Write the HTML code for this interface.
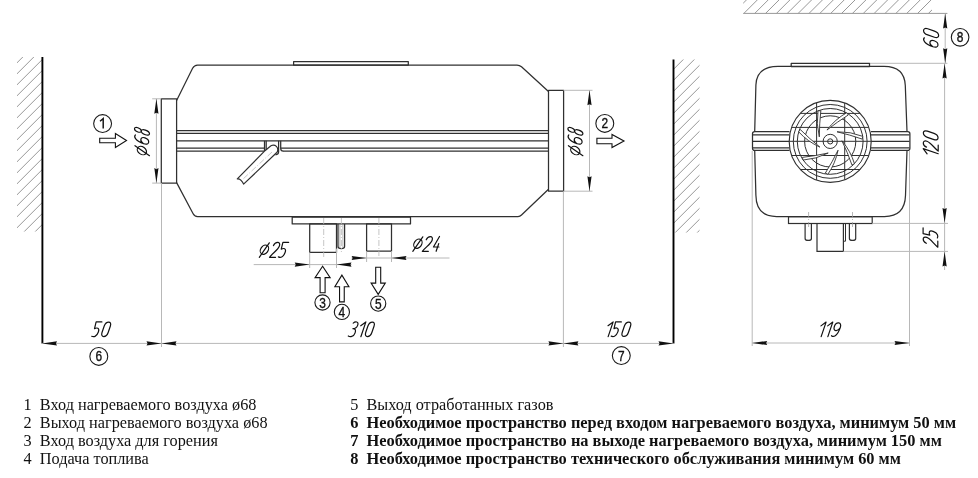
<!DOCTYPE html>
<html><head><meta charset="utf-8"><style>
html,body{margin:0;padding:0;background:#fff;}
body{width:978px;height:478px;overflow:hidden;font-family:"Liberation Sans",sans-serif;}
svg{display:block;}
</style></head><body>
<svg width="978" height="478" viewBox="0 0 978 478" style="will-change:transform">
<rect width="978" height="478" fill="#fff"/>
<clipPath id="hl"><rect x="17" y="57" width="25.4" height="174.5"/></clipPath>
<g clip-path="url(#hl)" stroke="#8c8c8c" stroke-width="0.9"><line x1="15" y1="64.8" x2="44.4" y2="35.4"/><line x1="15" y1="75.8" x2="44.4" y2="46.4"/><line x1="15" y1="86.8" x2="44.4" y2="57.4"/><line x1="15" y1="97.8" x2="44.4" y2="68.4"/><line x1="15" y1="108.8" x2="44.4" y2="79.4"/><line x1="15" y1="119.80000000000001" x2="44.4" y2="90.4"/><line x1="15" y1="130.8" x2="44.4" y2="101.4"/><line x1="15" y1="141.8" x2="44.4" y2="112.4"/><line x1="15" y1="152.8" x2="44.4" y2="123.4"/><line x1="15" y1="163.8" x2="44.4" y2="134.4"/><line x1="15" y1="174.8" x2="44.4" y2="145.4"/><line x1="15" y1="185.8" x2="44.4" y2="156.4"/><line x1="15" y1="196.8" x2="44.4" y2="167.4"/><line x1="15" y1="207.8" x2="44.4" y2="178.4"/><line x1="15" y1="218.8" x2="44.4" y2="189.4"/><line x1="15" y1="229.8" x2="44.4" y2="200.4"/><line x1="15" y1="240.8" x2="44.4" y2="211.4"/><line x1="15" y1="251.8" x2="44.4" y2="222.4"/><line x1="15" y1="262.8" x2="44.4" y2="233.4"/></g>
<line x1="42.4" y1="57" x2="42.4" y2="343.5" stroke="#000" stroke-width="1.9"/>
<clipPath id="hr"><rect x="673.5" y="59.5" width="26.0" height="173.1"/></clipPath>
<g clip-path="url(#hr)" stroke="#8c8c8c" stroke-width="0.9"><line x1="671.5" y1="71.29999999999995" x2="701.5" y2="41.299999999999955"/><line x1="671.5" y1="82.29999999999995" x2="701.5" y2="52.299999999999955"/><line x1="671.5" y1="93.29999999999995" x2="701.5" y2="63.299999999999955"/><line x1="671.5" y1="104.29999999999995" x2="701.5" y2="74.29999999999995"/><line x1="671.5" y1="115.29999999999995" x2="701.5" y2="85.29999999999995"/><line x1="671.5" y1="126.29999999999995" x2="701.5" y2="96.29999999999995"/><line x1="671.5" y1="137.29999999999995" x2="701.5" y2="107.29999999999995"/><line x1="671.5" y1="148.29999999999995" x2="701.5" y2="118.29999999999995"/><line x1="671.5" y1="159.29999999999995" x2="701.5" y2="129.29999999999995"/><line x1="671.5" y1="170.29999999999995" x2="701.5" y2="140.29999999999995"/><line x1="671.5" y1="181.29999999999995" x2="701.5" y2="151.29999999999995"/><line x1="671.5" y1="192.29999999999995" x2="701.5" y2="162.29999999999995"/><line x1="671.5" y1="203.29999999999995" x2="701.5" y2="173.29999999999995"/><line x1="671.5" y1="214.29999999999995" x2="701.5" y2="184.29999999999995"/><line x1="671.5" y1="225.29999999999995" x2="701.5" y2="195.29999999999995"/><line x1="671.5" y1="236.29999999999995" x2="701.5" y2="206.29999999999995"/><line x1="671.5" y1="247.29999999999995" x2="701.5" y2="217.29999999999995"/><line x1="671.5" y1="258.29999999999995" x2="701.5" y2="228.29999999999995"/><line x1="671.5" y1="269.29999999999995" x2="701.5" y2="239.29999999999995"/></g>
<line x1="673.5" y1="59.5" x2="673.5" y2="343.5" stroke="#000" stroke-width="1.9"/>
<g fill="none" stroke="#303030" stroke-width="1.25" stroke-linejoin="round">
<path d="M176.6,100.5 L192.6,68.2 Q194.3,65 197.5,65 L517,65 Q519.5,65 521.5,66.8 L548.5,91.5"/>
<path d="M548.5,189.3 L521.5,215 Q520,216.5 518,216.5 L197.5,216.5 Q194.5,216.5 193,213.5 L176.6,182.6"/>
<rect x="161.3" y="98.8" width="15.3" height="84.3"/>
<rect x="548.5" y="90.3" width="15.1" height="100.9"/>
<rect x="293.6" y="61.5" width="114.7" height="3.5"/>
<path d="M176.6,130.5 H548.5 M176.6,133.4 H548.5 M176.6,140.75 H548.5"/>
<path d="M176.6,148.2 H264.5 M176.6,151.1 H264.5 M280.7,148.2 H548.5 M283,151.1 H548.5"/>
<path d="M264.5,140.75 V151.1 M266.2,140.75 V150 M278.6,140.75 V152 Q278.4,154.6 275.5,154.8 M280.7,140.75 V148.4 Q280.8,151.1 283.2,151.1"/>
<rect x="292.2" y="217" width="118.3" height="6.9"/>
<rect x="309.7" y="223.9" width="26.8" height="28.5"/>
<rect x="366.6" y="223.9" width="24.9" height="27.3"/>
<path d="M338,223.9 V246.5 Q338,248.6 341.3,248.6 Q344.6,248.6 344.6,246.5 V223.9"/>
</g>
<path d="M339.9,224 V247 M342.9,224 V247" stroke="#888" stroke-width="0.6" fill="none"/>
<g fill="#fff" stroke="#303030" stroke-width="1.2" stroke-linejoin="round">
<path d="M265,150.7 L237.3,178.9 Q241,178.5 243.6,184.1 L276.5,152.8 A3.8,3.8 0 0 0 270,146.5 Z"/>
</g>
<g stroke="#b8b8b8" stroke-width="0.8" stroke-dasharray="6,2,1,2">
<line x1="323.7" y1="218" x2="323.7" y2="258"/><line x1="378.9" y1="218" x2="378.9" y2="256"/><line x1="341.4" y1="218" x2="341.4" y2="252"/>
<line x1="272" y1="152" x2="242" y2="180"/>
</g>
<line x1="152.2" y1="98.8" x2="161.2" y2="98.8" stroke="#b8b8b8" stroke-width="1"/>
<line x1="152.2" y1="183.1" x2="161.2" y2="183.1" stroke="#b8b8b8" stroke-width="1"/>
<line x1="156.4" y1="98.8" x2="156.4" y2="183.1" stroke="#b8b8b8" stroke-width="1"/>
<path d="M156.40,98.80 L154.30,113.80 L156.40,112.75 L158.50,113.80Z" fill="#111" stroke="none"/>
<path d="M156.40,183.10 L158.50,168.10 L156.40,169.15 L154.30,168.10Z" fill="#111" stroke="none"/>
<g transform="translate(149.5,155.7) rotate(-90)" fill="none" stroke="#111" stroke-width="1.2" stroke-linecap="round" stroke-linejoin="round"><path d="M0,0 L10,-14.5"/><ellipse cx="5.1" cy="-7.6" rx="5.0" ry="3.7" transform="rotate(-55 5.1 -7.6)"/><path transform="matrix(6.324999999999999,0,-5.1000000000000005,15.0,15.100000000000001,-15.0)" d="M0.95,0.06 C0.55,-0.06 0,0.05 0,0.62 C0,1.04 1,1.04 1,0.7 C1,0.36 0.15,0.34 0,0.6" vector-effect="non-scaling-stroke"/><path transform="matrix(6.16,0,-5.1000000000000005,15.0,23.900000000000002,-15.0)" d="M0.5,0.45 C0.05,0.45 0.05,0 0.5,0 C0.95,0 0.95,0.45 0.5,0.45 C0,0.45 0,1 0.5,1 C1,1 1,0.45 0.5,0.45 Z" vector-effect="non-scaling-stroke"/></g>
<line x1="563.6" y1="90.3" x2="592.5" y2="90.3" stroke="#b8b8b8" stroke-width="1"/>
<line x1="563.6" y1="191.2" x2="592.5" y2="191.2" stroke="#b8b8b8" stroke-width="1"/>
<line x1="589.5" y1="90.3" x2="589.5" y2="191.2" stroke="#b8b8b8" stroke-width="1"/>
<path d="M589.50,90.30 L587.40,105.30 L589.50,104.25 L591.60,105.30Z" fill="#111" stroke="none"/>
<path d="M589.50,191.20 L591.60,176.20 L589.50,177.25 L587.40,176.20Z" fill="#111" stroke="none"/>
<g transform="translate(582.9,155.7) rotate(-90)" fill="none" stroke="#111" stroke-width="1.2" stroke-linecap="round" stroke-linejoin="round"><path d="M0,0 L10,-14.5"/><ellipse cx="5.1" cy="-7.6" rx="5.0" ry="3.7" transform="rotate(-55 5.1 -7.6)"/><path transform="matrix(6.324999999999999,0,-5.1000000000000005,15.0,15.100000000000001,-15.0)" d="M0.95,0.06 C0.55,-0.06 0,0.05 0,0.62 C0,1.04 1,1.04 1,0.7 C1,0.36 0.15,0.34 0,0.6" vector-effect="non-scaling-stroke"/><path transform="matrix(6.16,0,-5.1000000000000005,15.0,23.900000000000002,-15.0)" d="M0.5,0.45 C0.05,0.45 0.05,0 0.5,0 C0.95,0 0.95,0.45 0.5,0.45 C0,0.45 0,1 0.5,1 C1,1 1,0.45 0.5,0.45 Z" vector-effect="non-scaling-stroke"/></g>
<line x1="161.5" y1="183.1" x2="161.5" y2="347" stroke="#b8b8b8" stroke-width="1"/>
<line x1="563.4" y1="191.2" x2="563.4" y2="347" stroke="#b8b8b8" stroke-width="1"/>
<line x1="42" y1="343.4" x2="673.5" y2="343.4" stroke="#b8b8b8" stroke-width="1"/>
<path d="M42.00,343.40 L57.00,345.50 L55.95,343.40 L57.00,341.30Z" fill="#111" stroke="none"/>
<path d="M161.50,343.40 L146.50,341.30 L147.55,343.40 L146.50,345.50Z" fill="#111" stroke="none"/>
<path d="M161.50,343.40 L176.50,345.50 L175.45,343.40 L176.50,341.30Z" fill="#111" stroke="none"/>
<path d="M563.40,343.40 L548.40,341.30 L549.45,343.40 L548.40,345.50Z" fill="#111" stroke="none"/>
<path d="M563.40,343.40 L578.40,345.50 L577.35,343.40 L578.40,341.30Z" fill="#111" stroke="none"/>
<path d="M673.50,343.40 L658.50,341.30 L659.55,343.40 L658.50,345.50Z" fill="#111" stroke="none"/>
<g transform="translate(91.1,336.7)" fill="none" stroke="#111" stroke-width="1.2" stroke-linecap="round" stroke-linejoin="round"><path transform="matrix(5.775,0,-5.032000000000001,14.8,5.032000000000001,-14.8)" d="M1,0 L0,0 L0.12,0.46 C0.45,0.37 1,0.4 0.98,0.68 C0.96,1.02 0.45,1.03 0.08,0.97" vector-effect="non-scaling-stroke"/><path transform="matrix(6.16,0,-5.032000000000001,14.8,14.532,-14.8)" d="M0,0.28 C0,-0.08 1,-0.08 1,0.28 L1,0.72 C1,1.08 0,1.08 0,0.72 Z" vector-effect="non-scaling-stroke"/></g>
<g transform="translate(348.3,336.7)" fill="none" stroke="#111" stroke-width="1.2" stroke-linecap="round" stroke-linejoin="round"><path transform="matrix(5.5,0,-5.032000000000001,14.8,5.032000000000001,-14.8)" d="M0.05,0.08 C0.3,-0.03 1,-0.05 1,0.22 C1,0.42 0.7,0.46 0.35,0.46 C0.8,0.46 1,0.56 1,0.74 C1,1.02 0.3,1.02 -0.05,0.95" vector-effect="non-scaling-stroke"/><path transform="matrix(3.8499999999999996,0,-5.032000000000001,14.8,13.732,-14.8)" d="M0,0.26 L1,0 L1,1" vector-effect="non-scaling-stroke"/><path transform="matrix(6.16,0,-5.032000000000001,14.8,21.032,-14.8)" d="M0,0.28 C0,-0.08 1,-0.08 1,0.28 L1,0.72 C1,1.08 0,1.08 0,0.72 Z" vector-effect="non-scaling-stroke"/></g>
<g transform="translate(604.3,336.6)" fill="none" stroke="#111" stroke-width="1.2" stroke-linecap="round" stroke-linejoin="round"><path transform="matrix(3.8499999999999996,0,-4.998,14.7,4.998,-14.7)" d="M0,0.26 L1,0 L1,1" vector-effect="non-scaling-stroke"/><path transform="matrix(5.775,0,-4.998,14.7,11.298,-14.7)" d="M1,0 L0,0 L0.12,0.46 C0.45,0.37 1,0.4 0.98,0.68 C0.96,1.02 0.45,1.03 0.08,0.97" vector-effect="non-scaling-stroke"/><path transform="matrix(6.16,0,-4.998,14.7,21.498,-14.7)" d="M0,0.28 C0,-0.08 1,-0.08 1,0.28 L1,0.72 C1,1.08 0,1.08 0,0.72 Z" vector-effect="non-scaling-stroke"/></g>
<line x1="309.7" y1="252.3" x2="309.7" y2="268" stroke="#b8b8b8" stroke-width="1"/>
<line x1="336.5" y1="248.6" x2="336.5" y2="268" stroke="#b8b8b8" stroke-width="1"/>
<line x1="253.7" y1="264.6" x2="351.5" y2="264.6" stroke="#b8b8b8" stroke-width="1"/>
<path d="M309.70,264.60 L294.70,262.50 L295.75,264.60 L294.70,266.70Z" fill="#111" stroke="none"/>
<path d="M336.50,264.60 L351.50,266.70 L350.45,264.60 L351.50,262.50Z" fill="#111" stroke="none"/>
<g transform="translate(259.3,257.3)" fill="none" stroke="#111" stroke-width="1.2" stroke-linecap="round" stroke-linejoin="round"><path d="M0,0 L10,-14.5"/><ellipse cx="5.1" cy="-7.6" rx="5.0" ry="3.7" transform="rotate(-55 5.1 -7.6)"/><path transform="matrix(6.050000000000001,0,-5.1000000000000005,15,15.3,-15)" d="M0,0.22 C0.05,-0.06 1,-0.08 1,0.25 C1,0.5 0.35,0.7 0,1 L1,1" vector-effect="non-scaling-stroke"/><path transform="matrix(5.775,0,-5.1000000000000005,15,23.6,-15)" d="M1,0 L0,0 L0.12,0.46 C0.45,0.37 1,0.4 0.98,0.68 C0.96,1.02 0.45,1.03 0.08,0.97" vector-effect="non-scaling-stroke"/></g>
<line x1="366.6" y1="251.2" x2="366.6" y2="262" stroke="#b8b8b8" stroke-width="1"/>
<line x1="391.5" y1="251.2" x2="391.5" y2="262" stroke="#b8b8b8" stroke-width="1"/>
<line x1="351.5" y1="258" x2="449.5" y2="258" stroke="#b8b8b8" stroke-width="1"/>
<path d="M366.60,258.00 L351.60,255.90 L352.65,258.00 L351.60,260.10Z" fill="#111" stroke="none"/>
<path d="M391.50,258.00 L406.50,260.10 L405.45,258.00 L406.50,255.90Z" fill="#111" stroke="none"/>
<g transform="translate(412.8,251.3)" fill="none" stroke="#111" stroke-width="1.2" stroke-linecap="round" stroke-linejoin="round"><path d="M0,0 L10,-14.5"/><ellipse cx="5.1" cy="-7.6" rx="5.0" ry="3.7" transform="rotate(-55 5.1 -7.6)"/><path transform="matrix(6.050000000000001,0,-5.032000000000001,14.8,14.532,-14.8)" d="M0,0.22 C0.05,-0.06 1,-0.08 1,0.25 C1,0.5 0.35,0.7 0,1 L1,1" vector-effect="non-scaling-stroke"/><path transform="matrix(5.5,0,-5.032000000000001,14.8,24.232,-14.8)" d="M0.45,0 L0,0.71 L1,0.71 M0.75,0.48 L0.75,1" vector-effect="non-scaling-stroke"/></g>
<circle cx="102.6" cy="123.6" r="8.95" fill="none" stroke="#1a1a1a" stroke-width="1.1"/>
<path d="M100.0,121.19999999999999 L103.19999999999999,118.6 L103.19999999999999,128.5" fill="none" stroke="#111" stroke-width="1.45" stroke-linejoin="miter"/>
<path d="M126.50,140.50 L115.40,133.55 L115.40,138.20 L99.70,138.20 L99.70,142.80 L115.40,142.80 L115.40,147.45Z" fill="#fff" stroke="#111" stroke-width="1.1" stroke-linejoin="miter"/>
<circle cx="604.8" cy="123.4" r="8.95" fill="none" stroke="#1a1a1a" stroke-width="1.1"/>
<text transform="translate(604.8,128.45000000000002) scale(0.84,1)" x="0" y="0" text-anchor="middle" font-family="Liberation Sans, sans-serif" font-size="14.2" fill="#111" stroke="#111" stroke-width="0.35">2</text>
<path d="M624.00,141.00 L612.00,134.50 L612.00,138.25 L596.90,138.25 L596.90,143.75 L612.00,143.75 L612.00,147.50Z" fill="#fff" stroke="#111" stroke-width="1.1" stroke-linejoin="miter"/>
<circle cx="98.8" cy="356.4" r="8.95" fill="none" stroke="#1a1a1a" stroke-width="1.1"/>
<text transform="translate(98.8,361.45) scale(0.84,1)" x="0" y="0" text-anchor="middle" font-family="Liberation Sans, sans-serif" font-size="14.2" fill="#111" stroke="#111" stroke-width="0.35">6</text>
<circle cx="621.3" cy="355.6" r="8.95" fill="none" stroke="#1a1a1a" stroke-width="1.1"/>
<text transform="translate(621.3,360.65000000000003) scale(0.84,1)" x="0" y="0" text-anchor="middle" font-family="Liberation Sans, sans-serif" font-size="14.2" fill="#111" stroke="#111" stroke-width="0.35">7</text>
<path d="M322.60,266.20 L315.05,277.60 L320.10,277.60 L320.10,292.70 L325.10,292.70 L325.10,277.60 L330.15,277.60Z" fill="#fff" stroke="#111" stroke-width="1.1" stroke-linejoin="miter"/>
<circle cx="322.5" cy="302.5" r="7.6" fill="none" stroke="#1a1a1a" stroke-width="1.1"/>
<text transform="translate(322.5,307.55) scale(0.84,1)" x="0" y="0" text-anchor="middle" font-family="Liberation Sans, sans-serif" font-size="14.2" fill="#111" stroke="#111" stroke-width="0.35">3</text>
<path d="M341.90,275.10 L334.85,286.80 L339.55,286.80 L339.55,301.90 L344.25,301.90 L344.25,286.80 L348.95,286.80Z" fill="#fff" stroke="#111" stroke-width="1.1" stroke-linejoin="miter"/>
<circle cx="341.9" cy="311.9" r="7.6" fill="none" stroke="#1a1a1a" stroke-width="1.1"/>
<text transform="translate(341.9,316.95) scale(0.84,1)" x="0" y="0" text-anchor="middle" font-family="Liberation Sans, sans-serif" font-size="14.2" fill="#111" stroke="#111" stroke-width="0.35">4</text>
<path d="M378.20,294.40 L385.30,283.10 L380.70,283.10 L380.70,267.20 L375.70,267.20 L375.70,283.10 L371.10,283.10Z" fill="#fff" stroke="#111" stroke-width="1.1" stroke-linejoin="miter"/>
<circle cx="378.2" cy="303.6" r="7.6" fill="none" stroke="#1a1a1a" stroke-width="1.1"/>
<text transform="translate(378.2,308.65000000000003) scale(0.84,1)" x="0" y="0" text-anchor="middle" font-family="Liberation Sans, sans-serif" font-size="14.2" fill="#111" stroke="#111" stroke-width="0.35">5</text>
<clipPath id="ht"><rect x="743.2" y="0" width="188.79999999999995" height="13.4"/></clipPath>
<g clip-path="url(#ht)" stroke="#8c8c8c" stroke-width="0.9"><line x1="741.2" y1="5.2000000000000455" x2="934" y2="-187.5999999999999"/><line x1="741.2" y1="16.06000000000006" x2="934" y2="-176.7399999999999"/><line x1="741.2" y1="26.920000000000073" x2="934" y2="-165.87999999999988"/><line x1="741.2" y1="37.780000000000086" x2="934" y2="-155.01999999999987"/><line x1="741.2" y1="48.6400000000001" x2="934" y2="-144.15999999999985"/><line x1="741.2" y1="59.500000000000114" x2="934" y2="-133.29999999999984"/><line x1="741.2" y1="70.36000000000013" x2="934" y2="-122.43999999999983"/><line x1="741.2" y1="81.22000000000014" x2="934" y2="-111.57999999999981"/><line x1="741.2" y1="92.08000000000015" x2="934" y2="-100.7199999999998"/><line x1="741.2" y1="102.94000000000017" x2="934" y2="-89.85999999999979"/><line x1="741.2" y1="113.80000000000018" x2="934" y2="-78.99999999999977"/><line x1="741.2" y1="124.6600000000002" x2="934" y2="-68.13999999999976"/><line x1="741.2" y1="135.5200000000002" x2="934" y2="-57.279999999999745"/><line x1="741.2" y1="146.38000000000022" x2="934" y2="-46.41999999999973"/><line x1="741.2" y1="157.24000000000024" x2="934" y2="-35.55999999999972"/><line x1="741.2" y1="168.10000000000025" x2="934" y2="-24.699999999999704"/><line x1="741.2" y1="178.96000000000026" x2="934" y2="-13.83999999999969"/><line x1="741.2" y1="189.82000000000028" x2="934" y2="-2.979999999999677"/><line x1="741.2" y1="200.6800000000003" x2="934" y2="7.8800000000003365"/><line x1="741.2" y1="211.5400000000003" x2="934" y2="18.74000000000035"/></g>
<line x1="743.2" y1="13.4" x2="947.4" y2="13.4" stroke="#999" stroke-width="1"/>
<line x1="869.5" y1="63.3" x2="947.4" y2="63.3" stroke="#b8b8b8" stroke-width="1"/>
<line x1="945.2" y1="13.5" x2="945.2" y2="63.3" stroke="#b8b8b8" stroke-width="1"/>
<path d="M945.20,13.50 L943.10,28.50 L945.20,27.45 L947.30,28.50Z" fill="#111" stroke="none"/>
<path d="M945.20,63.30 L947.30,48.30 L945.20,49.35 L943.10,48.30Z" fill="#111" stroke="none"/>
<g transform="translate(938.8,48.7) rotate(-90)" fill="none" stroke="#111" stroke-width="1.2" stroke-linecap="round" stroke-linejoin="round"><path transform="matrix(6.324999999999999,0,-5.236000000000001,15.4,5.236000000000001,-15.4)" d="M0.95,0.06 C0.55,-0.06 0,0.05 0,0.62 C0,1.04 1,1.04 1,0.7 C1,0.36 0.15,0.34 0,0.6" vector-effect="non-scaling-stroke"/><path transform="matrix(6.16,0,-5.236000000000001,15.4,15.236,-15.4)" d="M0,0.28 C0,-0.08 1,-0.08 1,0.28 L1,0.72 C1,1.08 0,1.08 0,0.72 Z" vector-effect="non-scaling-stroke"/></g>
<circle cx="960.1" cy="37.3" r="8.8" fill="none" stroke="#1a1a1a" stroke-width="1.1"/>
<text transform="translate(960.1,42.349999999999994) scale(0.84,1)" x="0" y="0" text-anchor="middle" font-family="Liberation Sans, sans-serif" font-size="14.2" fill="#111" stroke="#111" stroke-width="0.35">8</text>
<g fill="none" stroke="#303030" stroke-width="1.25" stroke-linejoin="round">
<rect x="791.2" y="63.3" width="78.3" height="3.3"/>
<path d="M778,66.4 L884,66.4 Q904.5,66.4 905.3,85.5 L907,131.5 M907,150.3 L905.5,195.5 Q904.8,216.5 884.5,216.5 L776.6,216.5 Q756.2,216.5 755.9,195.2 L754.7,150.3 M754.7,131.6 L755.9,85.1 Q756.5,66.4 778,66.4"/>
<path d="M754.7,131.6 L789.5,131.6 M871,131.6 L907.8,131.6 Q909.9,131.6 909.9,133.8 L909.9,148.2 Q909.9,150.4 907.8,150.4 L871,150.4 M789.5,150.4 L754.7,150.4 Q752.5,150.4 752.5,148.2 L752.5,133.8 Q752.5,131.6 754.7,131.6"/>
<path d="M753,134.9 H789.5 M753,141.4 H789.5 M753,147.8 H789.5 M871,134.9 H909.5 M871,141.4 H909.5 M871,147.8 H909.5"/>
</g>
<circle cx="830.2" cy="141.4" r="41" fill="#fff" stroke="#303030" stroke-width="1.15"/>
<g fill="none" stroke="#303030" stroke-width="1.0">
<circle cx="830.2" cy="141.4" r="36.9"/>
<circle cx="830.2" cy="141.4" r="32.9"/>
<circle cx="830.2" cy="141.4" r="25.6"/>
<circle cx="830.2" cy="141.4" r="7.1"/><circle cx="830.2" cy="141.4" r="2.6"/>
<clipPath id="fanc"><circle cx="830.2" cy="141.4" r="41"/></clipPath>
<g clip-path="url(#fanc)">
<path d="M816.6,99 V184 M844.7,99 V184 M785,113.4 H876 M785,127.4 H876 M785,141.3 H876 M785,155.5 H876 M785,169.5 H876"/>
</g>
<path d="M862.81,136.36 Q850.54,131.45 837.05,131.79 Q849.77,134.76 862.17,139.08 Z" fill="#fff" stroke-width="0.9"/>
<path d="M854.47,163.75 Q850.67,151.10 841.98,140.77 Q847.60,152.56 851.95,164.95 Z" fill="#fff" stroke-width="0.9"/>
<path d="M827.86,174.31 Q835.38,163.45 838.04,150.22 Q832.32,161.96 825.34,173.09 Z" fill="#fff" stroke-width="0.9"/>
<path d="M803.01,160.09 Q816.19,159.19 828.19,153.03 Q815.45,155.88 802.40,157.36 Z" fill="#fff" stroke-width="0.9"/>
<path d="M798.63,131.79 Q807.55,141.54 819.86,147.08 Q809.68,138.89 800.39,129.61 Z" fill="#fff" stroke-width="0.9"/>
<path d="M818.03,110.73 Q815.97,123.78 819.31,136.86 Q819.37,123.80 820.83,110.74 Z" fill="#fff" stroke-width="0.9"/>
<path d="M846.59,112.76 Q835.10,119.29 826.96,130.05 Q837.21,121.96 848.32,114.96 Z" fill="#fff" stroke-width="0.9"/>
</g>
<g fill="none" stroke="#303030" stroke-width="1.2">
<rect x="788.5" y="216.7" width="83.7" height="6.8"/>
<path d="M805.1,223.5 V238.4 Q805.1,240.4 808.25,240.4 Q811.4,240.4 811.4,238.4 V223.5 M849.4,223.5 V238.4 Q849.4,240.4 852.55,240.4 Q855.7,240.4 855.7,238.4 V223.5"/>
<path d="M817,223.5 V251.4 H843.4 V223.5"/>
<path d="M845.5,223.5 V241.2 H843.4" stroke-width="1.0"/>
</g>
<line x1="752.2" y1="151" x2="752.2" y2="346" stroke="#b8b8b8" stroke-width="1"/>
<line x1="909.5" y1="151" x2="909.5" y2="346" stroke="#b8b8b8" stroke-width="1"/>
<line x1="752.2" y1="343" x2="909.5" y2="343" stroke="#b8b8b8" stroke-width="1"/>
<path d="M752.20,343.00 L767.20,345.10 L766.15,343.00 L767.20,340.90Z" fill="#111" stroke="none"/>
<path d="M909.50,343.00 L894.50,340.90 L895.55,343.00 L894.50,345.10Z" fill="#111" stroke="none"/>
<g transform="translate(817.3,336.6)" fill="none" stroke="#111" stroke-width="1.2" stroke-linecap="round" stroke-linejoin="round"><path transform="matrix(3.8499999999999996,0,-4.930000000000001,14.5,4.930000000000001,-14.5)" d="M0,0.26 L1,0 L1,1" vector-effect="non-scaling-stroke"/><path transform="matrix(3.8499999999999996,0,-4.930000000000001,14.5,11.63,-14.5)" d="M0,0.26 L1,0 L1,1" vector-effect="non-scaling-stroke"/><path transform="matrix(6.324999999999999,0,-4.930000000000001,14.5,18.53,-14.5)" d="M0.05,0.94 C0.45,1.06 1,0.95 1,0.38 C1,-0.04 0,-0.04 0,0.3 C0,0.66 0.85,0.66 1,0.4" vector-effect="non-scaling-stroke"/></g>
<line x1="872.2" y1="223.4" x2="948" y2="223.4" stroke="#b8b8b8" stroke-width="1"/>
<line x1="843.4" y1="251.4" x2="948" y2="251.4" stroke="#b8b8b8" stroke-width="1"/>
<g stroke="#999" stroke-width="0.7" stroke-dasharray="5,2,1,2"><line x1="808.6" y1="212" x2="808.6" y2="229"/><line x1="852.5" y1="212" x2="852.5" y2="229"/></g>
<line x1="944.6" y1="63.3" x2="944.6" y2="270" stroke="#b8b8b8" stroke-width="1"/>
<path d="M944.60,63.50 L942.50,78.50 L944.60,77.45 L946.70,78.50Z" fill="#111" stroke="none"/>
<path d="M944.60,223.00 L946.70,208.00 L944.60,209.05 L942.50,208.00Z" fill="#111" stroke="none"/>
<path d="M944.60,251.50 L942.50,266.50 L944.60,265.45 L946.70,266.50Z" fill="#111" stroke="none"/>
<g transform="translate(938.2,157.6) rotate(-90)" fill="none" stroke="#111" stroke-width="1.2" stroke-linecap="round" stroke-linejoin="round"><path transform="matrix(3.8499999999999996,0,-5.1000000000000005,15,5.1000000000000005,-15)" d="M0,0.26 L1,0 L1,1" vector-effect="non-scaling-stroke"/><path transform="matrix(6.050000000000001,0,-5.1000000000000005,15,11.600000000000001,-15)" d="M0,0.22 C0.05,-0.06 1,-0.08 1,0.25 C1,0.5 0.35,0.7 0,1 L1,1" vector-effect="non-scaling-stroke"/><path transform="matrix(6.16,0,-5.1000000000000005,15,21.700000000000003,-15)" d="M0,0.28 C0,-0.08 1,-0.08 1,0.28 L1,0.72 C1,1.08 0,1.08 0,0.72 Z" vector-effect="non-scaling-stroke"/></g>
<g transform="translate(937.8,247.2) rotate(-90)" fill="none" stroke="#111" stroke-width="1.2" stroke-linecap="round" stroke-linejoin="round"><path transform="matrix(6.050000000000001,0,-4.998,14.7,4.998,-14.7)" d="M0,0.22 C0.05,-0.06 1,-0.08 1,0.25 C1,0.5 0.35,0.7 0,1 L1,1" vector-effect="non-scaling-stroke"/><path transform="matrix(5.775,0,-4.998,14.7,13.597999999999999,-14.7)" d="M1,0 L0,0 L0.12,0.46 C0.45,0.37 1,0.4 0.98,0.68 C0.96,1.02 0.45,1.03 0.08,0.97" vector-effect="non-scaling-stroke"/></g>
<text x="23.6" y="409.7" font-family="Liberation Serif, serif" font-size="16.25" fill="#111">1&#160;&#160;Вход нагреваемого воздуха &#248;68</text><text x="23.6" y="427.9" font-family="Liberation Serif, serif" font-size="16.25" fill="#111">2&#160;&#160;Выход нагреваемого воздуха &#248;68</text><text x="23.6" y="446.1" font-family="Liberation Serif, serif" font-size="16.25" fill="#111">3&#160;&#160;Вход воздуха для горения</text><text x="23.6" y="464.4" font-family="Liberation Serif, serif" font-size="16.25" fill="#111">4&#160;&#160;Подача топлива</text><text x="350.2" y="409.7" font-family="Liberation Serif, serif" font-size="16.25" font-weight="normal" fill="#111">5&#160;&#160;Выход отработанных газов</text><text x="350.2" y="427.9" font-family="Liberation Serif, serif" font-size="16.38" font-weight="bold" fill="#111">6&#160;&#160;Необходимое пространство перед входом нагреваемого воздуха, минимум 50 мм</text><text x="350.2" y="446.1" font-family="Liberation Serif, serif" font-size="16.38" font-weight="bold" fill="#111">7&#160;&#160;Необходимое пространство на выходе нагреваемого воздуха, минимум 150 мм</text><text x="350.2" y="464.4" font-family="Liberation Serif, serif" font-size="16.38" font-weight="bold" fill="#111">8&#160;&#160;Необходимое пространство технического обслуживания минимум 60 мм</text>
</svg>
</body></html>
